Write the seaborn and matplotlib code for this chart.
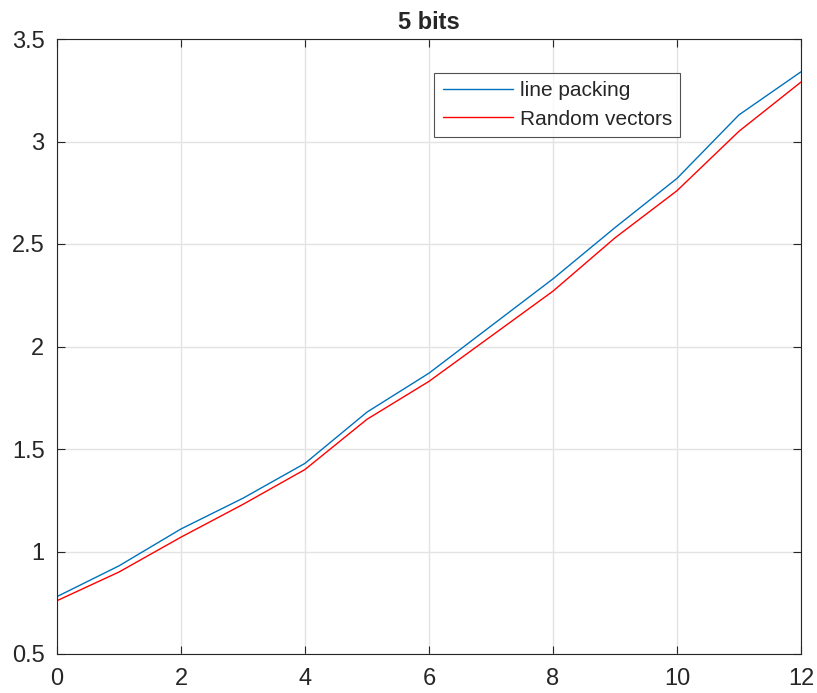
import pandas as pd
import matplotlib.pyplot as plt
import seaborn as sns

# values
x_vals = list(range(13))
line_packing = [0.78, 0.93, 1.11, 1.26, 1.43, 1.68, 1.87, 2.10, 2.33, 2.58, 2.82, 3.13, 3.34]
random_vectors = [0.76, 0.90, 1.07, 1.23, 1.40, 1.645, 1.83, 2.05, 2.27, 2.53, 2.76, 3.05, 3.29]

df = pd.DataFrame({
    'x': x_vals * 2,
    'y': line_packing + random_vectors,
    'series': ['line packing'] * 13 + ['Random vectors'] * 13,
})

sns.set_style("white")
plt.rcParams['font.family'] = ['Liberation Sans', 'DejaVu Sans']

fig = plt.figure(figsize=(8.17, 6.93), dpi=100)
ax = fig.add_axes([57 / 817, 39 / 693, 744 / 817, 615 / 693])

sns.lineplot(data=df, x='x', y='y', hue='series',
             palette={'line packing': '#0072bd', 'Random vectors': '#ff0000'},
             linewidth=1.0, ax=ax)

ax.set_xlim(0, 12)
ax.set_ylim(0.5, 3.5)
ax.set_xticks(range(0, 13, 2))
ax.set_yticks([0.5, 1, 1.5, 2, 2.5, 3, 3.5])
ax.set_yticklabels(['0.5', '1', '1.5', '2', '2.5', '3', '3.5'])
ax.grid(True, color='#e3e3e3', linewidth=1.0)
ax.set_axisbelow(True)
for s in ax.spines.values():
    s.set_color('#262626')
    s.set_linewidth(0.8)
ax.tick_params(direction='in', length=6, width=0.8, labelsize=17, colors='#262626',
               top=True, right=True, bottom=True, left=True, pad=10)
ax.tick_params(axis='y', pad=9)
ax.set_xlabel('')
ax.set_ylabel('')
ax.set_title('5 bits', fontsize=17, fontweight='bold', pad=7)

leg = ax.legend(loc='upper left', bbox_to_anchor=(0.507, 0.945), borderaxespad=0,
                fontsize=15, frameon=True, fancybox=False, handlelength=3.4,
                handletextpad=0.3, borderpad=0.4, labelspacing=0.45)
leg.get_frame().set_edgecolor('#262626')
leg.get_frame().set_linewidth(0.8)

fig.savefig('out.png', dpi=100)
